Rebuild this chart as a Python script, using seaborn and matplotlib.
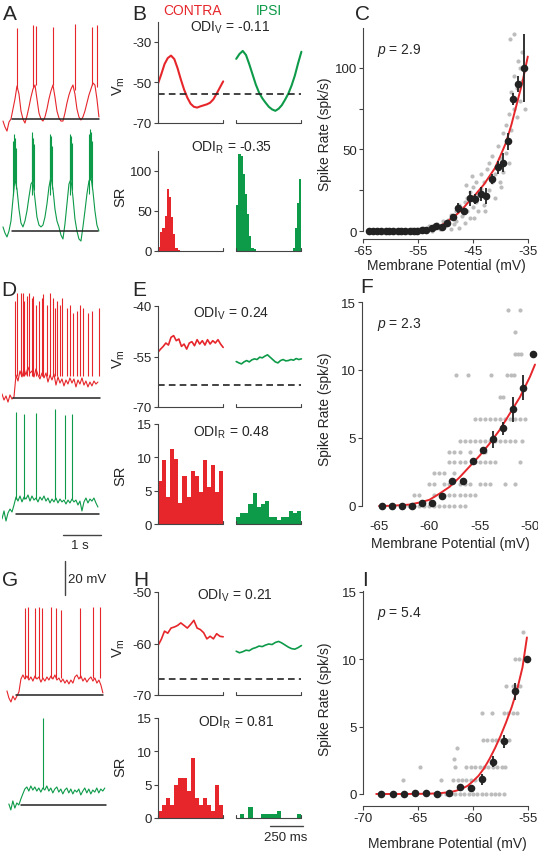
import numpy as np
import pandas as pd
import matplotlib
matplotlib.use('Agg')
import matplotlib.pyplot as plt
import seaborn as sns

# ---------------------------------------------------------------------------
# Data
# ---------------------------------------------------------------------------

# Raw membrane potential traces (panels A, D, G), mV, one sample every TRACE_DT s
TRACE_DT = 0.0526
A_RED_T0 = 0.026
A_RED_VM = [-66.2, -69.7, -72.1, -66.8, -65.0, -59.1, -53.2, -45.6, -50.3, -60.3,
            -65.0, -67.4, -63.2, -57.9, -52.1, -47.4, -45.0, -53.2, -61.5, -65.0,
            -66.2, -63.8, -59.1, -53.2, -48.5, -45.0, -52.1, -60.3, -64.4, -66.2,
            -66.2, -61.5, -55.6, -50.9, -47.4, -45.0, -50.3, -59.1, -63.8, -65.6,
            -63.8, -60.3, -55.6, -50.9, -47.4, -43.8, -45.0, -53.2, -63.8]
A_RED_SPK_T = [0.387, 0.824, 0.895, 1.35, 1.92, 2.36, 2.49]
A_RED_SPK_BASE = [-47, -46, -45, -45, -48, -45, -46]
A_RED_SPK_TOP = [-11.5, -9.7, -10.3, -10.9, -9.1, -10.9, -9.7]

A_GREEN_T0 = 0.026
A_GREEN_VM = [-62.6, -66.2, -68.5, -65.0, -59.1, -46.2, -34.4, -40.3, -52.1, -60.3,
              -62.6, -59.1, -53.2, -45.0, -37.4, -35.6, -46.2, -56.8, -61.5, -62.6,
              -61.5, -56.8, -49.1, -39.1, -33.2, -40.3, -52.1, -59.1, -62.6, -67.4,
              -69.7, -60.9, -49.1, -37.4, -34.4, -45.0, -57.9, -65.0, -69.7, -70.9,
              -62.6, -53.2, -43.2, -35.6, -33.2, -41.5, -53.2, -61.5, -65.0]
A_GREEN_SPK_T = [0.30, 0.32, 0.34, 0.36, 0.78, 0.80, 0.82, 0.84, 1.25, 1.27,
                 1.29, 1.31, 1.78, 1.80, 1.82, 1.84, 2.30, 2.32, 2.34, 2.36]
A_GREEN_SPK_BASE = [-44, -37, -35, -40, -44, -37, -36, -41, -44, -36,
                    -34, -40, -44, -36, -35, -41, -43, -35, -34, -40]
A_GREEN_SPK_TOP = [-12, -8, -10, -16, -9, -7, -10, -14, -11, -8,
                   -9, -15, -10, -8, -9, -13, -8, -5, -7, -12]

D_RED_T0 = 0.0
D_RED_VM = [-62.6, -66.2, -63.8, -67.4, -63.2, -65.6, -64.4, -51.5, -55.0, -49.1,
            -52.6, -47.9, -51.5, -46.8, -50.3, -49.1, -52.6, -47.9, -51.5, -53.8,
            -50.3, -53.2, -50.3, -55.6, -51.5, -54.4, -50.9, -57.4, -52.6, -56.2,
            -53.8, -57.9, -54.4, -56.8, -53.2, -56.2, -53.8, -58.5, -54.4, -56.8,
            -53.2, -57.4, -55.0, -58.5, -55.6, -57.9, -55.0, -56.8, -55.6]
D_RED_SPK_T = [0.342, 0.403, 0.492, 0.545, 0.579, 0.666, 0.719, 0.797, 0.824, 0.895,
               0.982, 1.045, 1.087, 1.176, 1.263, 1.35, 1.395, 1.455, 1.526, 1.571,
               1.703, 1.789, 1.861, 1.966, 2.053, 2.14, 2.271, 2.361, 2.545]
D_RED_SPK_BASE = -52.0
D_RED_SPK_TOP = [-8, -3, -3, -3, -8, -5, -3, -6, -5, -10, -8, -6, -4, -10, -3,
                 -6, -12, -8, -10, -6, -12, -10, -15, -14, -10, -12, -15, -14, -12]

D_GREEN_T0 = 0.0
D_GREEN_VM = [-67.9, -63.2, -69.1, -64.4, -62.1, -63.8, -59.7, -55.0, -57.4, -54.4,
              -57.9, -55.0, -56.2, -53.8, -57.4, -54.4, -56.8, -55.6, -57.9, -55.0,
              -56.8, -54.4, -57.4, -55.6, -58.5, -56.2, -57.9, -55.6, -58.5, -56.2,
              -57.9, -56.8, -59.1, -56.8, -58.5, -56.2, -57.9, -56.8, -59.7, -57.4,
              -63.2, -57.9, -55.6, -58.5, -56.2, -57.4, -55.6, -58.5, -60.9]
D_GREEN_SPK_T = [0.368, 0.579, 0.895, 1.395, 1.658, 1.834]
D_GREEN_SPK_BASE = -56.0
D_GREEN_SPK_TOP = [-5.0, -6.2, -5.6, -3.2, -6.8, -6.2]

G_RED_T0 = 0.13
G_RED_VM = [-62.6, -66.8, -69.1, -65.6, -67.9, -65.6, -63.2, -55.6, -53.2, -55.6,
            -53.8, -56.2, -54.4, -56.8, -53.8, -55.6, -54.4, -57.4, -55.0, -56.8,
            -54.4, -56.2, -53.8, -55.6, -53.2, -56.2, -55.0, -57.4, -55.6, -58.0,
            -56.2, -58.5, -56.2, -58.0, -54.4, -53.2, -55.6, -53.8, -56.8, -55.0,
            -57.4, -55.6, -54.4, -56.8, -55.0, -58.0, -56.2, -59.1, -63.8]
G_RED_SPK_T = [0.605, 0.692, 0.868, 0.982, 1.045, 1.282, 1.413, 1.553, 2.053, 2.387, 2.579]
G_RED_SPK_BASE = -55.0
G_RED_SPK_TOP = [-14, -13, -14, -13, -14, -13, -14, -15, -14, -13, -13]

G_GREEN_T0 = 0.18
G_GREEN_VM = [-64.4, -67.9, -62.6, -66.8, -63.8, -65.0, -61.5, -58.5, -55.6, -54.4,
              -56.8, -53.8, -56.2, -54.4, -56.8, -55.0, -57.4, -55.0, -56.2, -53.8,
              -56.8, -55.0, -57.9, -55.6, -54.4, -57.4, -55.6, -58.5, -56.2, -55.0,
              -57.9, -55.6, -58.5, -56.2, -57.4, -55.6, -59.1, -56.8, -55.0, -57.9,
              -55.6, -58.5, -56.2, -57.4, -55.0, -57.9, -55.6, -56.8, -55.0]
G_GREEN_SPK_T = [1.087]
G_GREEN_SPK_BASE = -55.0
G_GREEN_SPK_TOP = [-13.8]

REST = -65.0  # black reference line under each trace
A_RED_REST_SPAN = [0.26, 2.55]
A_GREEN_REST_SPAN = [0.255, 2.53]
D_RED_REST_SPAN = [0.30, 2.58]
D_GREEN_REST_SPAN = [0.37, 2.56]
G_RED_REST_SPAN = [0.37, 2.66]
G_GREEN_REST_SPAN = [0.49, 2.74]

# Cycle averaged Vm (panels B, E, H): contra 0-500 ms, ipsi drawn at 600-1100 ms
IPSI_OFFSET = 600
B_VM_CONTRA = [-50.6, -46.0, -41.0, -38.0, -36.8, -38.5, -43.0, -48.5, -53.5, -57.5, -60.5,
               -62.0, -62.4, -61.8, -61.3, -60.8, -60.0, -58.3, -55.5, -52.5, -49.5]
B_VM_IPSI = [-38.4, -36.0, -34.5, -36.5, -41.0, -46.0, -51.0, -55.0, -57.8, -60.0, -62.0,
             -63.3, -64.0, -63.0, -61.2, -58.5, -55.5, -51.5, -46.6, -40.5, -34.9]
B_THRESH = -55.8
E_VM_CONTRA = [-53.7, -52.8, -52.0, -51.0, -51.6, -49.3, -48.8, -50.3, -49.8, -52.0, -51.3,
               -52.8, -51.0, -50.6, -51.8, -50.0, -51.3, -50.3, -51.6, -50.0, -51.3, -50.3,
               -51.0, -50.0, -51.3, -52.3]
E_VM_IPSI = [-56.5, -56.9, -57.2, -56.6, -56.2, -56.6, -56.0, -55.7, -55.9, -55.2, -55.4,
             -54.9, -54.5, -55.2, -55.9, -56.6, -56.9, -56.2, -55.9, -56.3, -56.2, -55.9,
             -56.1, -55.6, -55.9, -55.7]
E_THRESH = -63.4
H_VM_CONTRA = [-60.4, -59.2, -57.6, -58.0, -57.0, -56.8, -56.5, -56.0, -56.5, -57.0, -56.3,
               -55.5, -57.0, -57.3, -57.9, -59.1, -58.6, -59.1, -58.1, -58.6, -58.7]
H_VM_IPSI = [-61.5, -61.8, -61.6, -61.3, -61.4, -61.0, -60.8, -60.5, -60.6, -60.3, -60.1,
             -60.2, -59.8, -59.6, -59.9, -60.3, -60.7, -61.0, -61.1, -60.8, -60.4]
H_THRESH = -66.9

# Spike rate histograms (panels B, E, H), spk/s per bin
B_SR_CONTRA = [5, 24, 29, 44, 77, 67, 42, 21, 4, 1, 0, 0, 0, 0, 0,
               0, 0, 0, 0, 0, 0, 0, 0, 0, 0, 0, 0, 0, 0, 0]
B_SR_IPSI = [58, 121, 119, 96, 71, 46, 19, 4, 2, 0, 0, 0, 0, 0, 0,
             0, 0, 0, 0, 0, 0, 0, 0, 0, 0, 0, 4, 29, 60, 90]
E_SR_CONTRA = [6.4, 9.6, 4.0, 11.3, 9.7, 3.2, 7.2, 4.0, 8.0, 7.2, 4.8, 9.6, 5.6, 8.8, 4.8, 8.0]
E_SR_IPSI = [1.0, 1.6, 1.6, 3.0, 4.6, 2.5, 3.0, 3.4, 1.0, 1.0, 0.6, 1.0, 1.0, 2.0, 1.6, 2.0]
H_SR_CONTRA = [1, 2, 3, 2, 5, 6, 6, 4, 9, 3, 2, 3, 2, 1, 5, 2]
H_SR_IPSI = [0, 0.6, 0, 1.7, 0, 0, 0.6, 0.6, 0.6, 0.6, 1.1, 0, 0, 0, 0, 0.6]

# Ocular dominance indices shown above the B/E/H panels
ODI_V = ['-0.11', '0.24', '0.21']
ODI_R = ['-0.35', '0.48', '0.81']

# Spike rate vs membrane potential (panels C, F, I)
C_GREY_X = [-57, -56, -55.5, -55, -54.5, -54, -53.5, -53, -52.5, -52, -51.5, -51, -50.5, -50.5,
            -50, -49.5, -49, -49, -48.5, -48, -48, -47.5, -47.5, -47, -47, -46.5, -46.5, -46,
            -46, -45.5, -45.5, -45, -45, -44.5, -44.5, -44, -44, -43.5, -43.5, -43, -43, -42.5,
            -42.5, -42, -42, -41.5, -41.5, -41, -41, -40.5, -40.5, -40, -40, -39.5, -39.5, -39,
            -39, -38.5, -38.5, -38.5, -38, -38, -37.5, -37.5, -37, -37, -36.5, -36.5, -36, -36,
            -35.5, -37.6, -38.2, -36.8, -39.8, -42.8, -44.8, -46.2, -45.2]
C_GREY_Y = [0.5, 1, 0, 1.5, 0.5, 2, 1, 3, 0, 2, 4, 1, 6, 2,
            3, 7, 1, 10, 4, 12, 6, 16, 2, 9, 14, 18, 5, 12,
            20, 8, 24, 15, 27, 18, 30, 12, 22, 35, 26, 16, 30, 22,
            38, 25, 42, 30, 46, 20, 35, 40, 52, 30, 45, 60, 36, 48,
            65, 42, 72, 55, 62, 85, 75, 95, 70, 88, 100, 80, 92, 110,
            75, 121, 118, 104, 27, 12, 8, 28, 34]
C_FIT_X = [-64, -62, -60, -58, -56, -54, -53, -52, -51, -50, -49, -48, -47, -46, -45,
           -44, -43, -42, -41, -40, -39, -38, -37, -36, -35]
C_FIT_Y = [0, 0, 0, 0.05, 0.2, 0.4, 0.8, 1.5, 3, 5, 7.5, 10, 13, 17, 20.5,
           24.5, 28.5, 33.5, 38.5, 46, 54, 65, 78, 91, 107]
C_MEAN_X = [-63.85, -63.1, -62.4, -61.7, -60.9, -60.2, -59.5, -58.7, -58.0, -57.3, -56.5,
            -55.8, -55.1, -54.3, -53.6, -52.5, -51.7, -50.7, -49.7, -48.6, -47.7, -46.6,
            -45.5, -44.6, -43.6, -42.6, -41.6, -40.5, -39.6, -38.6, -37.7, -36.8, -35.7]
C_MEAN_Y = [0, 0, 0, 0, 0, 0, 0, 0, 0, 0, 0, 0, 0.3, 0.5, 0.8, 1.6, 3.3, 2.3, 5, 8.5, 14,
            12, 20, 19.6, 22.7, 21.3, 31.9, 39, 42, 54.9, 81, 90.3, 99.9]
C_MEAN_ERR = [0.5, 0.5, 0.5, 0.5, 0.5, 0.5, 0.5, 0.5, 0.5, 0.5, 0.5, 0.5, 0.5, 0.5, 0.5,
              1, 1.2, 1, 1.5, 2, 3, 2, 4.5, 3, 4, 5, 3, 4, 5.6, 5, 3.6, 5, 21]

F_GREY_X = [-62, -61.5, -61, -60.5, -60, -59.5, -59, -58.5, -58, -57.5, -57, -56.5,
            -61.5, -61, -59.5, -58.5, -58, -57.5, -57, -56.5, -56, -55.5,
            -60, -59.5, -58.5, -58, -57, -56.5, -56, -55, -54.5, -54, -52.5, -51.5,
            -59.5, -59, -58.5, -57.5,
            -58, -57.5, -57, -56.5, -55.5, -55, -54.5, -54, -53.5, -51,
            -58, -57.5, -57, -56, -54.5,
            -57, -56.5, -56, -55.5, -55, -54.5, -54, -53.5, -53, -52.5, -52, -51.5, -50.8,
            -55.5, -55, -54.5, -54, -53.5, -53, -52.5, -52, -51.5, -51, -50.5,
            -53, -52.7,
            -57.3, -56.2, -53.9, -52.3, -51.9, -51.6,
            -51.5, -51.2, -50.9, -49.6,
            -51.5,
            -52.2, -51.0]
F_GREY_Y = [0] * 12 + [0.8] * 10 + [1.6] * 12 + [2.4] * 4 + [3.2] * 10 + [4.0] * 5 + \
           [4.8] * 13 + [6.4] * 11 + [8.0] * 2 + [9.6] * 6 + [11.2] * 4 + [12.8] * 1 + [14.4] * 2
F_FIT_X = [-65, -64, -63, -62, -61, -60, -59, -58, -57, -56, -55, -54, -53, -52, -51, -50, -49.5]
F_FIT_Y = [0, 0.01, 0.05, 0.1, 0.25, 0.45, 0.9, 1.4, 2.1, 2.9, 3.7, 4.6, 5.6, 6.8, 8.0, 9.5, 10.4]
F_MEAN_X = [-64.7, -63.7, -62.7, -61.7, -60.7, -59.7, -58.7, -57.7, -56.7, -55.7, -54.7,
            -53.7, -52.7, -51.7, -50.7, -49.7]
F_MEAN_Y = [0, 0, 0, 0, 0.2, 0.2, 0.7, 1.8, 1.8, 3.3, 4.1, 4.9, 5.7, 7.1, 8.7, 11.2]
F_MEAN_ERR = [0, 0, 0, 0, 0, 0, 0, 0, 0, 0, 0, 0.6, 0.5, 0.9, 0.9, 0]

I_GREY_X = [-63.5, -63, -62.5, -62, -61.6, -61.2, -60.8, -60.4, -60, -59.6, -59.2, -58.8,
            -58.4, -58, -57.6, -57.2,
            -66.4, -62.9, -61.8, -61.4, -61, -60.6, -60.2, -59.8,
            -64.8, -61.6, -60.6, -60.2, -59.8, -59.4, -59, -58.6, -58.2, -57.8, -57.4, -57.1,
            -61.7, -61.5,
            -59.1, -58.7, -58.3, -57.9, -57.5, -57.1, -56.7,
            -59.2, -58.3, -57.2, -56.8, -56.4, -56.0,
            -57.0, -56.4, -56.0, -55.7,
            -56.2, -55.8,
            -55.5]
I_GREY_Y = [0] * 16 + [1.0] * 8 + [2.0] * 12 + [2.6, 3.4] + [4.0] * 7 + [6.0] * 6 + \
           [8.0] * 4 + [10.0] * 2 + [12.0]
I_FIT_X = [-68.8, -66, -64, -63, -62, -61.5, -61, -60.5, -60, -59.5, -59, -58.5, -58,
           -57.5, -57, -56.5, -56, -55.5, -55.1]
I_FIT_Y = [0, 0, 0.02, 0.06, 0.15, 0.25, 0.4, 0.6, 0.95, 1.35, 1.9, 2.6, 3.4, 4.3, 5.3,
           6.4, 7.7, 9.4, 11.6]
I_MEAN_X = [-68.4, -67.3, -66.3, -65.3, -64.3, -63.3, -62.2, -61.2, -60.2, -59.2, -58.2,
            -57.2, -56.2, -55.1]
I_MEAN_Y = [0, 0, 0, 0.07, 0.07, 0, 0.07, 0.5, 0.45, 1.1, 2.4, 3.9, 7.6, 10.0]
I_MEAN_ERR = [0, 0, 0, 0, 0, 0, 0, 0, 0, 0.4, 0.4, 0.5, 0.6, 0]

# ---------------------------------------------------------------------------
# Style
# ---------------------------------------------------------------------------
sns.set_style("ticks")
plt.rcParams['font.family'] = ['Liberation Sans', 'DejaVu Sans']
plt.rcParams['mathtext.fontset'] = 'custom'
plt.rcParams['mathtext.rm'] = 'Liberation Sans'
plt.rcParams['mathtext.it'] = 'Liberation Sans:italic'
plt.rcParams['axes.unicode_minus'] = False

RED = '#E6262B'
GREEN = '#0D9A49'
GREY = '#BDBDBD'
INK = '#222222'
AXC = '#444444'
FS = 9.5

FIG_W, FIG_H = 538, 853
fig = plt.figure(figsize=(FIG_W / 100, FIG_H / 100), dpi=100)


def axes_px(left, top, right, bottom):
    return fig.add_axes([left / FIG_W, 1 - bottom / FIG_H,
                         (right - left) / FIG_W, (bottom - top) / FIG_H])


def text_px(x, y, s, **kw):
    kw.setdefault('fontsize', FS)
    fig.text(x / FIG_W, 1 - y / FIG_H, s, **kw)


def style_axis(ax):
    for side in ['top', 'right']:
        ax.spines[side].set_visible(False)
    for side in ['left', 'bottom']:
        ax.spines[side].set_color(AXC)
        ax.spines[side].set_linewidth(0.8)
    ax.tick_params(length=3, width=0.8, color=AXC, labelsize=FS, pad=1.5)


# ---------------------------------------------------------------------------
# Raw traces (A, D, G)
# ---------------------------------------------------------------------------
PX_PER_MV = 1.7
PX_PER_S = 38.0


def trace_axes(top, bottom, base):
    ax = axes_px(2, top, 108, bottom)
    ax.set_xlim(0, 106 / PX_PER_S)
    ax.set_ylim(REST - (bottom - base) / PX_PER_MV, REST + (base - top) / PX_PER_MV)
    ax.axis('off')
    return ax


def draw_trace(ax, t0, vm, spk_t, spk_base, spk_top, rest_span, color):
    t = t0 + TRACE_DT * np.arange(len(vm))
    sns.lineplot(x=t, y=vm, ax=ax, color=color, linewidth=0.8, legend=False)
    ax.vlines(spk_t, spk_base, spk_top, color=color, linewidth=0.8)
    ax.plot(rest_span, [REST, REST], color=INK, linewidth=1.1)


ax_a1 = trace_axes(20, 135, 120)
draw_trace(ax_a1, A_RED_T0, A_RED_VM, A_RED_SPK_T, A_RED_SPK_BASE, A_RED_SPK_TOP,
           A_RED_REST_SPAN, RED)
ax_a2 = trace_axes(130, 248, 232)
draw_trace(ax_a2, A_GREEN_T0, A_GREEN_VM, A_GREEN_SPK_T, A_GREEN_SPK_BASE, A_GREEN_SPK_TOP,
           A_GREEN_REST_SPAN, GREEN)

ax_d1 = trace_axes(285, 410, 399)
draw_trace(ax_d1, D_RED_T0, D_RED_VM, D_RED_SPK_T, D_RED_SPK_BASE, D_RED_SPK_TOP,
           D_RED_REST_SPAN, RED)
ax_d2 = trace_axes(405, 527, 515)
draw_trace(ax_d2, D_GREEN_T0, D_GREEN_VM, D_GREEN_SPK_T, D_GREEN_SPK_BASE, D_GREEN_SPK_TOP,
           D_GREEN_REST_SPAN, GREEN)
# 1 s scale bar
ax_d2.plot([1.6, 2.6], [-77.4, -77.4], color=AXC, linewidth=1.0, clip_on=False)
text_px(80, 546, '1 s', ha='center', va='center')

ax_g1 = trace_axes(600, 708, 696)
draw_trace(ax_g1, G_RED_T0, G_RED_VM, G_RED_SPK_T, G_RED_SPK_BASE, G_RED_SPK_TOP,
           G_RED_REST_SPAN, RED)
ax_g2 = trace_axes(712, 815, 806)
draw_trace(ax_g2, G_GREEN_T0, G_GREEN_VM, G_GREEN_SPK_T, G_GREEN_SPK_BASE, G_GREEN_SPK_TOP,
           G_GREEN_REST_SPAN, GREEN)
# 20 mV scale bar
ax_g1.plot([1.658, 1.658], [-6.2, 13.8], color=AXC, linewidth=1.0, clip_on=False)
text_px(68, 580, '20 mV', ha='left', va='center')

# ---------------------------------------------------------------------------
# Cycle averages (B, E, H)
# ---------------------------------------------------------------------------
HALF = 500


def segments(ax, height_px):
    tr = ax.get_xaxis_transform()
    tick = 3.0 / height_px
    for x0 in [0, IPSI_OFFSET]:
        ax.plot([x0, x0, x0 + HALF, x0 + HALF], [tick, 0, 0, tick], color=AXC,
                linewidth=0.8, transform=tr, clip_on=False)


def vm_panel(top, bottom, ylim, yticks, contra, ipsi, thresh, label_y, lw):
    ax = axes_px(158, top, 304, bottom)
    style_axis(ax)
    ax.spines['bottom'].set_visible(False)
    tc = np.linspace(0, HALF, len(contra))
    ti = np.linspace(0, HALF, len(ipsi)) + IPSI_OFFSET
    sns.lineplot(x=tc, y=contra, ax=ax, color=RED, linewidth=lw, legend=False)
    sns.lineplot(x=ti, y=ipsi, ax=ax, color=GREEN, linewidth=lw, legend=False)
    ax.plot([0, IPSI_OFFSET + HALF], [thresh, thresh], color=INK, linewidth=1.2,
            linestyle=(0, (4, 2.5)))
    ax.set_xlim(0, 1120)
    ax.set_ylim(*ylim)
    ax.set_xticks([])
    ax.set_yticks(yticks)
    ax.set_xlabel('')
    ax.set_ylabel(r'V$_\mathrm{m}$', fontsize=FS + 1)
    ax.yaxis.set_label_coords(-0.21, label_y)
    segments(ax, bottom - top)
    return ax


def sr_panel(top, bottom, ylim, yticks, contra, ipsi, label_y):
    ax = axes_px(158, top, 304, bottom)
    style_axis(ax)
    ax.spines['bottom'].set_visible(False)
    for vals, offset, color in [(contra, 0, RED), (ipsi, IPSI_OFFSET, GREEN)]:
        width = HALF / len(vals)
        df = pd.DataFrame({'t': offset + width * (np.arange(len(vals)) + 0.5), 'rate': vals})
        sns.histplot(data=df, x='t', weights='rate', bins=len(vals),
                     binrange=(offset, offset + HALF), ax=ax,
                     color=color, alpha=1, linewidth=0)
    ax.set_xlim(0, 1120)
    ax.set_ylim(*ylim)
    ax.set_xticks([])
    ax.set_yticks(yticks)
    ax.set_xlabel('')
    ax.set_ylabel('SR', fontsize=FS + 1)
    ax.yaxis.set_label_coords(-0.21, label_y)
    segments(ax, bottom - top)
    return ax


vm_panel(22.5, 124, (-70, -20), [-70, -50, -30], B_VM_CONTRA, B_VM_IPSI, B_THRESH, 0.37, 1.5)
sr_panel(152, 252, (0, 125), [0, 50, 100], B_SR_CONTRA, B_SR_IPSI, 0.55)
vm_panel(307, 408, (-70, -40), [-70, -55, -40], E_VM_CONTRA, E_VM_IPSI, E_THRESH, 0.48, 1.2)
sr_panel(425, 525, (0, 15), [0, 5, 10, 15], E_SR_CONTRA, E_SR_IPSI, 0.49)
vm_panel(593, 696, (-70, -50), [-70, -60, -50], H_VM_CONTRA, H_VM_IPSI, H_THRESH, 0.47, 1.2)
ax_h2 = sr_panel(719, 819, (0, 15), [0, 5, 10, 15], H_SR_CONTRA, H_SR_IPSI, 0.52)
# 250 ms scale bar
ax_h2.plot([860, 1110], [-1.2, -1.2], color=AXC, linewidth=1.0, clip_on=False)
text_px(286, 838, '250 ms', ha='center', va='center')

# ODI annotations
for (x, y), val in zip([(230, 28), (231, 314), (235, 596)], ODI_V):
    text_px(x, y, r'ODI$_\mathrm{V}$ = ' + val, ha='center', va='center', fontsize=FS + 0.5)
for (x, y), val in zip([(232, 148), (231, 433), (236, 723)], ODI_R):
    text_px(x, y, r'ODI$_\mathrm{R}$ = ' + val, ha='center', va='center', fontsize=FS + 0.5)

text_px(192, 11, 'CONTRA', color=RED, ha='center', va='center', fontsize=FS + 0.5)
text_px(269, 11, 'IPSI', color=GREEN, ha='center', va='center', fontsize=FS + 0.5)

# ---------------------------------------------------------------------------
# Spike rate vs Vm (C, F, I)
# ---------------------------------------------------------------------------


def rate_panel(box, xlim, ylim, xticks, yticks, yticklabels, grey_x, grey_y, fit_x, fit_y,
               mean_x, mean_y, mean_err, p_text, ylab_x, xlab_y, show_xspine=True):
    ax = axes_px(*box)
    style_axis(ax)
    sns.scatterplot(x=grey_x, y=grey_y, ax=ax, color=GREY, s=9, linewidth=0,
                    legend=False, zorder=1)
    sns.lineplot(x=fit_x, y=fit_y, ax=ax, color=RED, linewidth=1.4, legend=False, zorder=2)
    ax.errorbar(mean_x, mean_y, yerr=mean_err, fmt='none', ecolor=INK, elinewidth=1.3,
                capsize=0, zorder=3)
    sns.scatterplot(x=mean_x, y=mean_y, ax=ax, color=INK, s=30, linewidth=0,
                    legend=False, zorder=4)
    ax.set_xlim(*xlim)
    ax.set_ylim(*ylim)
    ax.set_xticks(xticks)
    ax.set_xticklabels([str(v) for v in xticks])
    ax.set_yticks(yticks)
    ax.set_yticklabels(yticklabels)
    ax.spines['left'].set_bounds(0, ylim[1])
    if show_xspine:
        ax.spines['bottom'].set_bounds(xticks[0], xticks[-1])
    else:
        ax.spines['bottom'].set_visible(False)
        ax.tick_params(axis='x', length=0, pad=4)
    ax.set_xlabel('Membrane Potential (mV)', fontsize=FS + 0.5, va='top')
    ax.xaxis.set_label_coords(0.5, xlab_y)
    ax.set_ylabel('Spike Rate (spk/s)', fontsize=FS + 0.5)
    ax.yaxis.set_label_coords(ylab_x, 0.5)
    ax.text(0.085, 0.9, p_text, transform=ax.transAxes, fontsize=FS + 0.5,
            ha='left', va='center')
    return ax


rate_panel((363, 29, 530, 240), (-65, -34.6), (-4.9, 124.5), [-65, -55, -45, -35],
           [0, 25, 50, 75, 100], ['0', '', '50', '', '100'],
           C_GREY_X, C_GREY_Y, C_FIT_X, C_FIT_Y, C_MEAN_X, C_MEAN_Y, C_MEAN_ERR,
           r'$p$ = 2.9', -0.186, -0.092)
rate_panel((362, 303, 538, 515), (-66.69, -49.2), (-0.59, 15.0), [-65, -60, -55, -50],
           [0, 5, 10, 15], ['0', '5', '10', '15'],
           F_GREY_X, F_GREY_Y, F_FIT_X, F_FIT_Y, F_MEAN_X, F_MEAN_Y, F_MEAN_ERR,
           r'$p$ = 2.3', -0.17, -0.104, show_xspine=False)
rate_panel((363, 592, 532, 807), (-70, -54.64), (-0.89, 15.04), [-70, -65, -60, -55],
           [0, 5, 10, 15], ['0', '5', '10', '15'],
           I_GREY_X, I_GREY_Y, I_FIT_X, I_FIT_Y, I_MEAN_X, I_MEAN_Y, I_MEAN_ERR,
           r'$p$ = 5.4', -0.183, -0.14)

# Panel letters
for letter, x, y in [('A', 3, 5), ('B', 132, 5), ('C', 355, 5),
                     ('D', 1, 281), ('E', 132, 281), ('F', 360, 278),
                     ('G', 2, 571), ('H', 133, 571), ('I', 362, 571)]:
    text_px(x, y, letter, fontsize=15, ha='left', va='top')

fig.savefig('out.png', dpi=100)
